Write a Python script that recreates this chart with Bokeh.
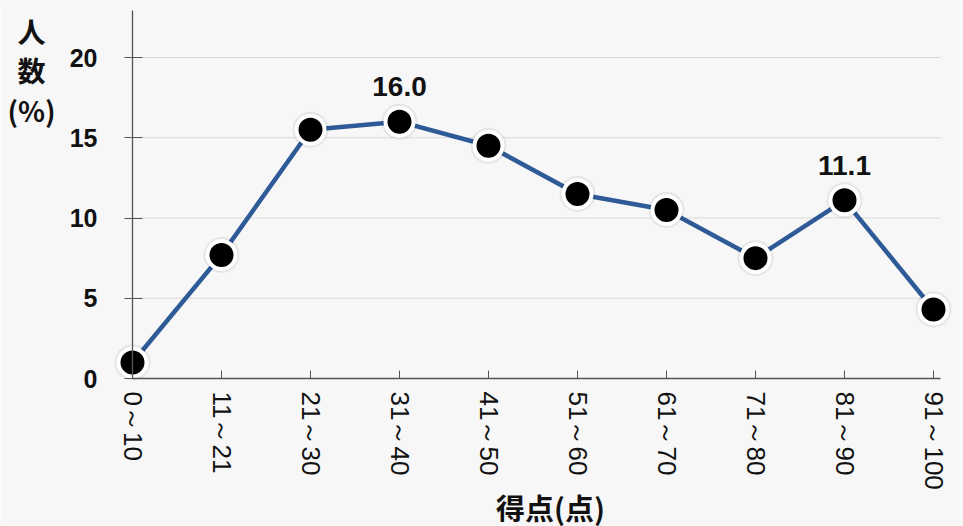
import math
from bokeh.plotting import figure
from bokeh.models import Range1d, LinearAxis, FixedTicker, Label, ColumnDataSource
from bokeh.core.properties import value
from bokeh.embed import file_html
from bokeh.resources import INLINE

# ---- data ----
categories = ["0～10", "11～21", "21～30", "31～40", "41～50",
              "51～60", "61～70", "71～80", "81～90", "91～100"]
percent = [1.0, 7.7, 15.5, 16.0, 14.5, 11.5, 10.5, 7.5, 11.1, 4.3]
labeled_index = [3, 8]
y_ticks = [0, 5, 10, 15, 20]
y_title = "人\n数\n(%)"
x_title = "得点(点)"

BG = "#f7f7f7"
LINE = "#2e5a97"
AXIS = "#555555"
GRID = "#d9d9d9"

W, H = 963, 526
X0PX, XUNIT = 132, 89.0      # pixel of x = 0, pixels per category
Y0PX, YUNIT = 378, 16.05     # pixel of y = 0, pixels per percent

xs = list(range(len(categories)))
x_end_axis = len(categories) - 1 + 0.08
y_top_axis = (Y0PX - 10) / YUNIT

p = figure(width=W, height=H, output_backend="svg", toolbar_location=None,
           x_range=Range1d(-X0PX / XUNIT, (W - X0PX) / XUNIT),
           y_range=Range1d(-(H - Y0PX) / YUNIT, Y0PX / YUNIT),
           x_axis_location=None, y_axis_location=None,
           min_border_left=0, min_border_right=0, min_border_top=0,
           min_border_bottom=0)
p.background_fill_color = BG
p.border_fill_color = BG
p.outline_line_color = None
p.grid.grid_line_color = None

# grid lines (from the axis to the end of the x axis)
grid_y = [t for t in y_ticks if t > 0]
p.segment(x0=[0] * len(grid_y), x1=[x_end_axis] * len(grid_y), y0=grid_y, y1=grid_y,
          line_color=GRID, line_width=1.2)

# x axis at y = 0
xa = LinearAxis(fixed_location=0, ticker=FixedTicker(ticks=xs))
xa.major_label_overrides = {i: c for i, c in enumerate(categories)}
xa.bounds = (0, x_end_axis)
xa.axis_line_color = AXIS
xa.axis_line_width = 1.3
xa.major_tick_line_color = AXIS
xa.major_tick_in = 8
xa.major_tick_out = 0
xa.minor_tick_line_color = None
xa.major_label_orientation = -math.pi / 2
xa.major_label_standoff = 13
xa.major_label_text_font = "Liberation Sans"
xa.major_label_text_font_size = "26px"
xa.major_label_text_color = "#111111"
p.add_layout(xa, "below")

# y axis at x = 0
ya = LinearAxis(fixed_location=0, ticker=FixedTicker(ticks=y_ticks))
ya.bounds = (0, y_top_axis)
ya.axis_line_color = AXIS
ya.axis_line_width = 1.3
ya.major_tick_line_color = AXIS
ya.major_tick_in = 10
ya.major_tick_out = 8
ya.minor_tick_line_color = None
ya.major_label_standoff = 27
ya.major_label_text_font = "Liberation Sans"
ya.major_label_text_font_style = "bold"
ya.major_label_text_font_size = "25px"
ya.major_label_text_color = "#111111"
p.add_layout(ya, "left")

src = ColumnDataSource(dict(x=xs, y=percent))

p.line("x", "y", source=src, line_color=LINE, line_width=4.5)
# soft shadow
p.scatter("x", "y", source=src, size=36, fill_color="#000000", fill_alpha=0.07,
          line_color=None)
p.scatter("x", "y", source=src, size=28, fill_color="#000000",
          line_color="#ffffff", line_width=4)

lab_src = ColumnDataSource(dict(
    x=[xs[i] for i in labeled_index],
    y=[percent[i] for i in labeled_index],
    t=[f"{percent[i]:.1f}" for i in labeled_index]))
p.text("x", "y", text="t", source=lab_src, text_align="center",
       text_baseline="middle", y_offset=-35,
       text_font=value("Liberation Sans"), text_font_style="bold",
       text_font_size="28px", text_color="#111111")

p.add_layout(Label(x=(31 - X0PX) / XUNIT, y=(Y0PX - 70) / YUNIT, text=y_title,
                   text_align="center", text_baseline="middle",
                   text_font="Noto Sans CJK JP", text_font_style="bold",
                   text_font_size="28px", text_line_height=0.98,
                   text_color="#111111"))
p.add_layout(Label(x=(550 - X0PX) / XUNIT, y=(Y0PX - 506) / YUNIT, text=x_title,
                   text_align="center", text_baseline="middle",
                   text_font="Noto Sans CJK JP", text_font_style="bold",
                   text_font_size="29px", text_color="#111111"))

open("out.html", "w").write(file_html(p, INLINE))
